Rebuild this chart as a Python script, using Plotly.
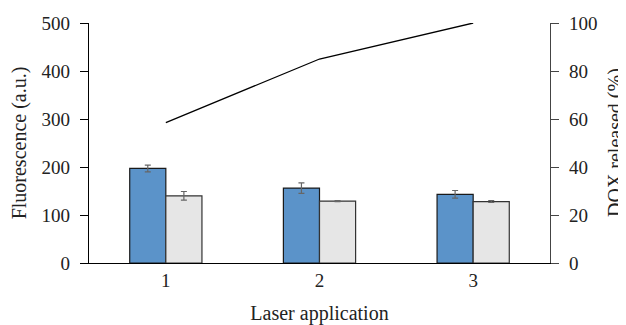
import plotly.graph_objects as go

categories = ["1", "2", "3"]
fluor_a = [197, 156, 143]
fluor_a_err = [7, 11, 8]
fluor_b = [140, 129, 128]
fluor_b_err = [9, 1, 2]
dox_released = [58.5, 85, 100]

FONT = "Liberation Serif"

fig = go.Figure()
fig.add_trace(go.Bar(
    x=categories, y=fluor_a, marker=dict(color="#5b93c9", line=dict(color="#1a1a1a", width=1.2)),
    error_y=dict(type="data", array=fluor_a_err, color="#666666", thickness=1.2, width=3),
    showlegend=False))
fig.add_trace(go.Bar(
    x=categories, y=fluor_b, marker=dict(color="#e6e6e6", line=dict(color="#333333", width=1.2)),
    error_y=dict(type="data", array=fluor_b_err, color="#666666", thickness=1.2, width=3),
    showlegend=False))
fig.add_trace(go.Scatter(
    x=categories, y=dox_released, yaxis="y2", mode="lines",
    line=dict(color="black", width=1.3), showlegend=False))

fig.update_layout(
    width=618, height=317,
    margin=dict(l=81, r=76, t=15, b=62),
    paper_bgcolor="white", plot_bgcolor="white",
    barmode="group", bargap=0.53, bargroupgap=0,
    font=dict(family=FONT, size=19, color="#222222"),
    xaxis=dict(range=[-0.5, 2.5], showline=True, linecolor="black", linewidth=1.3,
               ticks="", showgrid=False, zeroline=False, automargin=False,
               ticklabelstandoff=0,
               title=dict(text="Laser application", standoff=25, font=dict(size=20))),
    yaxis=dict(range=[0, 500], dtick=100, showline=True, linecolor="black", linewidth=1.3,
               ticks="outside", ticklen=8, tickcolor="black", showgrid=False, zeroline=False,
               automargin=False, ticklabelstandoff=6,
               title=dict(text="Fluorescence (a.u.)", standoff=11, font=dict(size=20))),
    yaxis2=dict(range=[0, 100], dtick=20, overlaying="y", side="right", showline=True,
                linecolor="#444444", linewidth=1.3, ticks="outside", ticklen=8, tickcolor="#444444",
                showgrid=False, zeroline=False, automargin=False, ticklabelstandoff=6),
    annotations=[dict(text="DOX released (%)", xref="paper", yref="paper", x=1, y=0.5,
                      xshift=65, xanchor="center", yanchor="middle", textangle=-90,
                      showarrow=False, font=dict(family=FONT, size=20, color="#222222"))],
)

fig.write_html("out.html")
